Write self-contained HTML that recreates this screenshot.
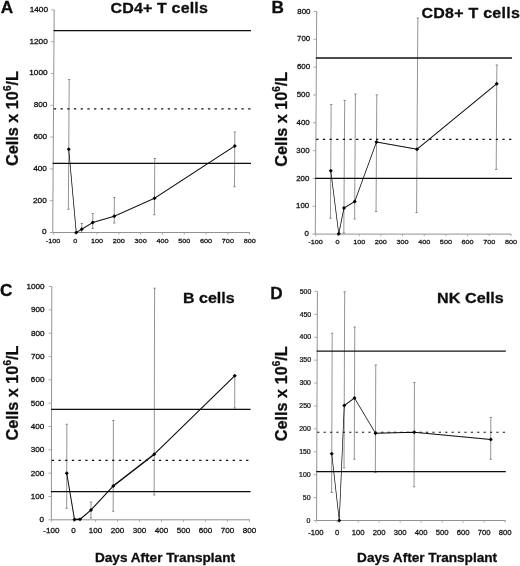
<!DOCTYPE html>
<html lang="en">
<head>
<meta charset="utf-8">
<title>Lymphocyte subset recovery after transplant</title>
<style>
html,body{margin:0;padding:0;background:#fff;}
body{width:520px;height:566px;overflow:hidden;}
svg{display:block;}
text{font-family:"Liberation Sans",Arial,Helvetica,sans-serif;}
.tk{fill:#111;stroke:#111;stroke-width:0.25px;}
.ttl{font-size:16px;font-weight:bold;fill:#0c0c0c;}
.pl{font-size:17.2px;font-weight:bold;fill:#0c0c0c;}
.yl{font-size:17.2px;font-weight:bold;fill:#0c0c0c;}
.xl{font-size:13.6px;font-weight:bold;fill:#0c0c0c;}
.ttl,.pl,.yl,.xl{stroke:#0c0c0c;stroke-width:0.3px;stroke-linejoin:round;}
.ax{stroke:#929292;stroke-width:1;fill:none;}
.tkm{stroke:#a2a2a2;stroke-width:0.9;fill:none;}
.eb{stroke:#707070;stroke-width:0.75;fill:none;}
.hs{stroke:#111;stroke-width:1.28;fill:none;}
.hd{stroke:#111;stroke-width:1.12;fill:none;}
.dl{stroke:#0a0a0a;fill:none;stroke-linejoin:round;}
.mk{fill:#000;}
</style>
</head>
<body>
<svg width="520" height="566" viewBox="0 0 520 566">
<defs>
<filter id="soft" x="-2%" y="-2%" width="104%" height="104%"><feGaussianBlur stdDeviation="0.35"/></filter>
<filter id="soft2" x="-2%" y="-2%" width="104%" height="104%"><feGaussianBlur stdDeviation="0.2"/></filter>
</defs>
<rect x="0" y="0" width="520" height="566" fill="#fff"/>
<g id="frame" filter="url(#soft)">
<g id="panel-A">
<path class="ax" d="M54.18 9.9L52.73 232.5H250.08"/>
<path class="tkm" d="M49.73 232.5h3.1M49.94 200.7h3.1M50.15 168.9h3.1M50.35 137.1h3.1M50.56 105.3h3.1M50.77 73.5h3.1M50.97 41.7h3.1M51.18 9.9h3.1M53.39 232.5v2.1M75.2 232.5v2.1M97.01 232.5v2.1M118.82 232.5v2.1M140.63 232.5v2.1M162.44 232.5v2.1M184.25 232.5v2.1M206.06 232.5v2.1M227.87 232.5v2.1M249.68 232.5v2.1"/>
<text class="tk" text-anchor="end" font-size="6.5" transform="translate(46.53 234.4) scale(1.27 1)">0</text>
<text class="tk" text-anchor="end" font-size="6.5" transform="translate(46.74 202.6) scale(1.27 1)">200</text>
<text class="tk" text-anchor="end" font-size="6.5" transform="translate(46.95 170.8) scale(1.27 1)">400</text>
<text class="tk" text-anchor="end" font-size="6.5" transform="translate(47.15 139) scale(1.27 1)">600</text>
<text class="tk" text-anchor="end" font-size="6.5" transform="translate(47.36 107.2) scale(1.27 1)">800</text>
<text class="tk" text-anchor="end" font-size="6.5" transform="translate(47.57 75.4) scale(1.27 1)">1000</text>
<text class="tk" text-anchor="end" font-size="6.5" transform="translate(47.77 43.6) scale(1.27 1)">1200</text>
<text class="tk" text-anchor="end" font-size="6.5" transform="translate(47.98 11.8) scale(1.27 1)">1400</text>
<text class="tk" text-anchor="middle" font-size="6.2" transform="translate(53.09 242.75) scale(1.17 1)">-100</text>
<text class="tk" text-anchor="middle" font-size="6.2" transform="translate(75.2 242.75) scale(1.17 1)">0</text>
<text class="tk" text-anchor="middle" font-size="6.2" transform="translate(97.01 242.75) scale(1.17 1)">100</text>
<text class="tk" text-anchor="middle" font-size="6.2" transform="translate(118.82 242.75) scale(1.17 1)">200</text>
<text class="tk" text-anchor="middle" font-size="6.2" transform="translate(140.63 242.75) scale(1.17 1)">300</text>
<text class="tk" text-anchor="middle" font-size="6.2" transform="translate(162.44 242.75) scale(1.17 1)">400</text>
<text class="tk" text-anchor="middle" font-size="6.2" transform="translate(184.25 242.75) scale(1.17 1)">500</text>
<text class="tk" text-anchor="middle" font-size="6.2" transform="translate(206.06 242.75) scale(1.17 1)">600</text>
<text class="tk" text-anchor="middle" font-size="6.2" transform="translate(227.87 242.75) scale(1.17 1)">700</text>
<text class="tk" text-anchor="middle" font-size="6.2" transform="translate(249.68 242.75) scale(1.17 1)">800</text>
<text class="pl" x="0.7" y="12.8">A</text>
<text class="ttl" transform="translate(110.5 13.3) scale(1 0.96)" letter-spacing="0.16">CD4+ T cells</text>
<text class="yl" text-anchor="middle" transform="translate(18 118.6) rotate(-90) scale(0.945 1)">Cells x 10<tspan font-size="10.5" dy="-7.3">6</tspan><tspan dy="7.3">/L</tspan></text>
</g>
<g id="panel-B">
<path class="ax" d="M316.7 11.5L315.29 234.1H511.34"/>
<path class="tkm" d="M312.29 234.1h3.1M312.47 206.28h3.1M312.65 178.45h3.1M312.82 150.62h3.1M313 122.8h3.1M313.17 94.97h3.1M313.35 67.15h3.1M313.52 39.32h3.1M313.7 11.5h3.1M315.82 234.1v2.1M337.5 234.1v2.1M359.18 234.1v2.1M380.86 234.1v2.1M402.54 234.1v2.1M424.22 234.1v2.1M445.9 234.1v2.1M467.58 234.1v2.1M489.26 234.1v2.1M510.94 234.1v2.1"/>
<text class="tk" text-anchor="end" font-size="6.8" transform="translate(308.99 236.15) scale(1.16 1)">0</text>
<text class="tk" text-anchor="end" font-size="6.8" transform="translate(309.17 208.33) scale(1.16 1)">100</text>
<text class="tk" text-anchor="end" font-size="6.8" transform="translate(309.35 180.5) scale(1.16 1)">200</text>
<text class="tk" text-anchor="end" font-size="6.8" transform="translate(309.52 152.68) scale(1.16 1)">300</text>
<text class="tk" text-anchor="end" font-size="6.8" transform="translate(309.7 124.85) scale(1.16 1)">400</text>
<text class="tk" text-anchor="end" font-size="6.8" transform="translate(309.87 97.02) scale(1.16 1)">500</text>
<text class="tk" text-anchor="end" font-size="6.8" transform="translate(310.05 69.2) scale(1.16 1)">600</text>
<text class="tk" text-anchor="end" font-size="6.8" transform="translate(310.22 41.37) scale(1.16 1)">700</text>
<text class="tk" text-anchor="end" font-size="6.8" transform="translate(310.4 13.55) scale(1.16 1)">800</text>
<text class="tk" text-anchor="middle" font-size="6.2" transform="translate(315.52 244.15) scale(1.17 1)">-100</text>
<text class="tk" text-anchor="middle" font-size="6.2" transform="translate(337.5 244.15) scale(1.17 1)">0</text>
<text class="tk" text-anchor="middle" font-size="6.2" transform="translate(359.18 244.15) scale(1.17 1)">100</text>
<text class="tk" text-anchor="middle" font-size="6.2" transform="translate(380.86 244.15) scale(1.17 1)">200</text>
<text class="tk" text-anchor="middle" font-size="6.2" transform="translate(402.54 244.15) scale(1.17 1)">300</text>
<text class="tk" text-anchor="middle" font-size="6.2" transform="translate(424.22 244.15) scale(1.17 1)">400</text>
<text class="tk" text-anchor="middle" font-size="6.2" transform="translate(445.9 244.15) scale(1.17 1)">500</text>
<text class="tk" text-anchor="middle" font-size="6.2" transform="translate(467.58 244.15) scale(1.17 1)">600</text>
<text class="tk" text-anchor="middle" font-size="6.2" transform="translate(489.26 244.15) scale(1.17 1)">700</text>
<text class="tk" text-anchor="middle" font-size="6.2" transform="translate(510.94 244.15) scale(1.17 1)">800</text>
<text class="pl" x="271.6" y="12.9">B</text>
<text class="ttl" transform="translate(421.5 17.6) scale(1 0.96)" letter-spacing="0.25">CD8+ T cells</text>
<text class="yl" text-anchor="middle" transform="translate(287.4 119.2) rotate(-90) scale(0.945 1)">Cells x 10<tspan font-size="10.5" dy="-7.3">6</tspan><tspan dy="7.3">/L</tspan></text>
</g>
<g id="panel-C">
<path class="ax" d="M51.8 286.5L51.33 519.8H249.84"/>
<path class="tkm" d="M48.33 519.8h3.1M48.38 496.47h3.1M48.43 473.14h3.1M48.47 449.81h3.1M48.52 426.48h3.1M48.57 403.15h3.1M48.61 379.82h3.1M48.66 356.49h3.1M48.71 333.16h3.1M48.75 309.83h3.1M48.8 286.5h3.1M51.62 519.8v2.1M73.6 519.8v2.1M95.58 519.8v2.1M117.56 519.8v2.1M139.54 519.8v2.1M161.52 519.8v2.1M183.5 519.8v2.1M205.48 519.8v2.1M227.46 519.8v2.1M249.44 519.8v2.1"/>
<text class="tk" text-anchor="end" font-size="6.5" transform="translate(44.13 522.36) scale(1.25 1)">0</text>
<text class="tk" text-anchor="end" font-size="6.5" transform="translate(44.18 499.03) scale(1.25 1)">100</text>
<text class="tk" text-anchor="end" font-size="6.5" transform="translate(44.23 475.7) scale(1.25 1)">200</text>
<text class="tk" text-anchor="end" font-size="6.5" transform="translate(44.27 452.37) scale(1.25 1)">300</text>
<text class="tk" text-anchor="end" font-size="6.5" transform="translate(44.32 429.04) scale(1.25 1)">400</text>
<text class="tk" text-anchor="end" font-size="6.5" transform="translate(44.37 405.71) scale(1.25 1)">500</text>
<text class="tk" text-anchor="end" font-size="6.5" transform="translate(44.41 382.38) scale(1.25 1)">600</text>
<text class="tk" text-anchor="end" font-size="6.5" transform="translate(44.46 359.05) scale(1.25 1)">700</text>
<text class="tk" text-anchor="end" font-size="6.5" transform="translate(44.51 335.72) scale(1.25 1)">800</text>
<text class="tk" text-anchor="end" font-size="6.5" transform="translate(44.55 312.39) scale(1.25 1)">900</text>
<text class="tk" text-anchor="end" font-size="6.5" transform="translate(44.6 289.06) scale(1.25 1)">1000</text>
<text class="tk" text-anchor="middle" font-size="6.9" transform="translate(51.32 532.55) scale(1.17 1)">-100</text>
<text class="tk" text-anchor="middle" font-size="6.9" transform="translate(73.6 532.55) scale(1.17 1)">0</text>
<text class="tk" text-anchor="middle" font-size="6.9" transform="translate(95.58 532.55) scale(1.17 1)">100</text>
<text class="tk" text-anchor="middle" font-size="6.9" transform="translate(117.56 532.55) scale(1.17 1)">200</text>
<text class="tk" text-anchor="middle" font-size="6.9" transform="translate(139.54 532.55) scale(1.17 1)">300</text>
<text class="tk" text-anchor="middle" font-size="6.9" transform="translate(161.52 532.55) scale(1.17 1)">400</text>
<text class="tk" text-anchor="middle" font-size="6.9" transform="translate(183.5 532.55) scale(1.17 1)">500</text>
<text class="tk" text-anchor="middle" font-size="6.9" transform="translate(205.48 532.55) scale(1.17 1)">600</text>
<text class="tk" text-anchor="middle" font-size="6.9" transform="translate(227.46 532.55) scale(1.17 1)">700</text>
<text class="tk" text-anchor="middle" font-size="6.9" transform="translate(249.44 532.55) scale(1.17 1)">800</text>
<text class="pl" x="0.1" y="296.1">C</text>
<text class="ttl" transform="translate(183 302.6) scale(1 0.96)" letter-spacing="0">B cells</text>
<text class="yl" text-anchor="middle" transform="translate(17.8 393.1) rotate(-90) scale(0.945 1)">Cells x 10<tspan font-size="10.5" dy="-7.3">6</tspan><tspan dy="7.3">/L</tspan></text>
<text class="xl" text-anchor="middle" x="165" y="561.6">Days After Transplant</text>
</g>
<g id="panel-D">
<path class="ax" d="M317.4 291.4L316.55 520.5H505.6"/>
<path class="tkm" d="M313.55 520.5h3.1M313.64 497.59h3.1M313.72 474.68h3.1M313.81 451.77h3.1M313.89 428.86h3.1M313.97 405.95h3.1M314.06 383.04h3.1M314.14 360.13h3.1M314.23 337.22h3.1M314.31 314.31h3.1M314.4 291.4h3.1M316.2 520.5v2.1M337.2 520.5v2.1M358.2 520.5v2.1M379.2 520.5v2.1M400.2 520.5v2.1M421.2 520.5v2.1M442.2 520.5v2.1M463.2 520.5v2.1M484.2 520.5v2.1M505.2 520.5v2.1"/>
<text class="tk" text-anchor="end" font-size="7" transform="translate(310.45 522.7) scale(0.99 1)">0</text>
<text class="tk" text-anchor="end" font-size="7" transform="translate(310.54 499.79) scale(0.99 1)">50</text>
<text class="tk" text-anchor="end" font-size="7" transform="translate(310.62 476.88) scale(0.99 1)">100</text>
<text class="tk" text-anchor="end" font-size="7" transform="translate(310.71 453.97) scale(0.99 1)">150</text>
<text class="tk" text-anchor="end" font-size="7" transform="translate(310.79 431.06) scale(0.99 1)">200</text>
<text class="tk" text-anchor="end" font-size="7" transform="translate(310.87 408.15) scale(0.99 1)">250</text>
<text class="tk" text-anchor="end" font-size="7" transform="translate(310.96 385.24) scale(0.99 1)">300</text>
<text class="tk" text-anchor="end" font-size="7" transform="translate(311.04 362.33) scale(0.99 1)">350</text>
<text class="tk" text-anchor="end" font-size="7" transform="translate(311.13 339.42) scale(0.99 1)">400</text>
<text class="tk" text-anchor="end" font-size="7" transform="translate(311.21 316.51) scale(0.99 1)">450</text>
<text class="tk" text-anchor="end" font-size="7" transform="translate(311.3 293.6) scale(0.99 1)">500</text>
<text class="tk" text-anchor="middle" font-size="7.2" transform="translate(315.9 534.5) scale(1.07 1)">-100</text>
<text class="tk" text-anchor="middle" font-size="7.2" transform="translate(337.2 534.5) scale(1.07 1)">0</text>
<text class="tk" text-anchor="middle" font-size="7.2" transform="translate(358.2 534.5) scale(1.07 1)">100</text>
<text class="tk" text-anchor="middle" font-size="7.2" transform="translate(379.2 534.5) scale(1.07 1)">200</text>
<text class="tk" text-anchor="middle" font-size="7.2" transform="translate(400.2 534.5) scale(1.07 1)">300</text>
<text class="tk" text-anchor="middle" font-size="7.2" transform="translate(421.2 534.5) scale(1.07 1)">400</text>
<text class="tk" text-anchor="middle" font-size="7.2" transform="translate(442.2 534.5) scale(1.07 1)">500</text>
<text class="tk" text-anchor="middle" font-size="7.2" transform="translate(463.2 534.5) scale(1.07 1)">600</text>
<text class="tk" text-anchor="middle" font-size="7.2" transform="translate(484.2 534.5) scale(1.07 1)">700</text>
<text class="tk" text-anchor="middle" font-size="7.2" transform="translate(505.2 534.5) scale(1.07 1)">800</text>
<text class="pl" x="270.2" y="299.2">D</text>
<text class="ttl" transform="translate(437 302.7) scale(1.01 0.96)" letter-spacing="0.05">NK Cells</text>
<text class="yl" text-anchor="middle" transform="translate(286.9 393.8) rotate(-90) scale(0.945 1)">Cells x 10<tspan font-size="10.5" dy="-7.3">6</tspan><tspan dy="7.3">/L</tspan></text>
<text class="xl" text-anchor="middle" x="427.1" y="562">Days After Transplant</text>
</g>
</g>
<g id="lines" filter="url(#soft2)">
<g id="series-A">
<path class="eb" d="M69.2 79.5L68.36 209.25M68 79.5h2.4M67.16 209.25h2.4M81.79 223.5L81.73 232.5M80.59 223.5h2.4M80.53 232.5h2.4M92.81 213.5L92.71 228.5M91.61 213.5h2.4M91.51 228.5h2.4M114.37 197.5L114.21 223M113.17 197.5h2.4M113.01 223h2.4M154.76 158.5L154.39 214.75M153.56 158.5h2.4M153.19 214.75h2.4M234.84 132L234.49 186.75M233.64 132h2.4M233.29 186.75h2.4"/>
<path class="hs" d="M53.55 30.7H251"/>
<path class="hs" d="M52.68 163.45H251"/>
<path class="hd" stroke-dasharray="2.3 4.4" d="M53.84 108.9H250.7"/>
<polyline class="dl" transform="scale(1 1.5)" stroke-width="0.77" points="68.75,99.5 76.25,155 81.75,152.83 92.75,148.33 114.25,144.17 154.5,132.17 234.75,97.33"/>
<path class="mk" d="M68.75 147.35l2 1.9l-2 1.9l-2 -1.9zM76.25 230.6l2 1.9l-2 1.9l-2 -1.9zM81.75 227.35l2 1.9l-2 1.9l-2 -1.9zM92.75 220.6l2 1.9l-2 1.9l-2 -1.9zM114.25 214.35l2 1.9l-2 1.9l-2 -1.9zM154.5 196.35l2 1.9l-2 1.9l-2 -1.9zM234.75 144.1l2 1.9l-2 1.9l-2 -1.9z"/>
</g>
<g id="series-B">
<path class="eb" d="M331.17 104.5L330.45 218.25M329.97 104.5h2.4M329.25 218.25h2.4M344.68 100.4L343.84 233M343.48 100.4h2.4M342.64 233h2.4M355.43 94L354.64 219M354.23 94h2.4M353.44 219h2.4M376.8 94.8L376.06 211.5M375.6 94.8h2.4M374.86 211.5h2.4M417.83 18L416.6 212.6M416.63 18h2.4M415.4 212.6h2.4M496.87 65L496.21 169.5M495.67 65h2.4M495.01 169.5h2.4"/>
<path class="hs" d="M315.9 58H512.05"/>
<path class="hs" d="M315.15 178.45H512.05"/>
<path class="hd" stroke-dasharray="2.3 4.35" d="M316.19 139.4H511.75"/>
<polyline class="dl" transform="scale(1 1.5)" stroke-width="0.73" points="330.75,113.83 338.75,155.83 344,138.67 354.75,134.33 376.5,94.67 417,99.5 496.75,55.83"/>
<path class="mk" d="M330.75 168.85l2 1.9l-2 1.9l-2 -1.9zM338.75 231.85l2 1.9l-2 1.9l-2 -1.9zM344 206.1l2 1.9l-2 1.9l-2 -1.9zM354.75 199.6l2 1.9l-2 1.9l-2 -1.9zM376.5 140.1l2 1.9l-2 1.9l-2 -1.9zM417 147.35l2 1.9l-2 1.9l-2 -1.9zM496.75 81.85l2 1.9l-2 1.9l-2 -1.9z"/>
</g>
<g id="series-C">
<path class="eb" d="M66.85 424.25L66.68 508.25M65.65 424.25h2.4M65.48 508.25h2.4M91.02 502L90.98 518M89.82 502h2.4M89.78 518h2.4M113.38 420.5L113.2 511.25M112.18 420.5h2.4M112 511.25h2.4M154.58 288.2L154.17 495M153.38 288.2h2.4M152.97 495h2.4M234.75 375.75L234.69 408M233.55 375.75h2.4M233.49 408h2.4"/>
<path class="hs" d="M51.05 409.4H250.55"/>
<path class="hs" d="M50.89 491.7H250.55"/>
<path class="hd" stroke-dasharray="2.3 4.4" d="M51.75 460.4H250.25"/>
<polyline class="dl" transform="scale(1 1.5)" stroke-width="0.95" points="66.75,315.5 74.5,346.33 80,346.2 91,340 113.25,324 154.25,302.83 234.75,250.5"/>
<path class="mk" d="M66.75 471.35l2 1.9l-2 1.9l-2 -1.9zM74.5 517.6l2 1.9l-2 1.9l-2 -1.9zM80 517.4l2 1.9l-2 1.9l-2 -1.9zM91 508.1l2 1.9l-2 1.9l-2 -1.9zM113.25 484.1l2 1.9l-2 1.9l-2 -1.9zM154.25 452.35l2 1.9l-2 1.9l-2 -1.9zM234.75 373.85l2 1.9l-2 1.9l-2 -1.9z"/>
</g>
<g id="series-D">
<path class="eb" d="M332.2 333.25L331.61 492.5M331 333.25h2.4M330.41 492.5h2.4M344.67 291.75L344.02 468M343.47 291.75h2.4M342.82 468h2.4M354.76 327L354.27 459.25M353.56 327h2.4M353.07 459.25h2.4M375.75 365L375.35 472.5M374.55 365h2.4M374.15 472.5h2.4M414.43 382.5L414.05 486.75M413.23 382.5h2.4M412.85 486.75h2.4M490.83 417.5L490.68 459.25M489.63 417.5h2.4M489.48 459.25h2.4"/>
<path class="hs" stroke-width="1.15" d="M316.68 351.1H505.8"/>
<path class="hs" stroke-width="1.15" d="M316.23 471.6H505.8"/>
<path class="hd" stroke-dasharray="2.2 4.2" d="M317.18 432.2H505.5"/>
<polyline class="dl" transform="scale(1 1.5)" stroke-width="0.7" points="331.75,302.5 339.25,347 344.25,270.33 354.5,265.33 375.5,288.83 414.25,288.17 490.75,293"/>
<path class="mk" d="M331.75 451.85l2 1.9l-2 1.9l-2 -1.9zM339.25 518.6l2 1.9l-2 1.9l-2 -1.9zM344.25 403.6l2 1.9l-2 1.9l-2 -1.9zM354.5 396.1l2 1.9l-2 1.9l-2 -1.9zM375.5 431.35l2 1.9l-2 1.9l-2 -1.9zM414.25 430.35l2 1.9l-2 1.9l-2 -1.9zM490.75 437.6l2 1.9l-2 1.9l-2 -1.9z"/>
</g>
</g>
</svg>
</body>
</html>
